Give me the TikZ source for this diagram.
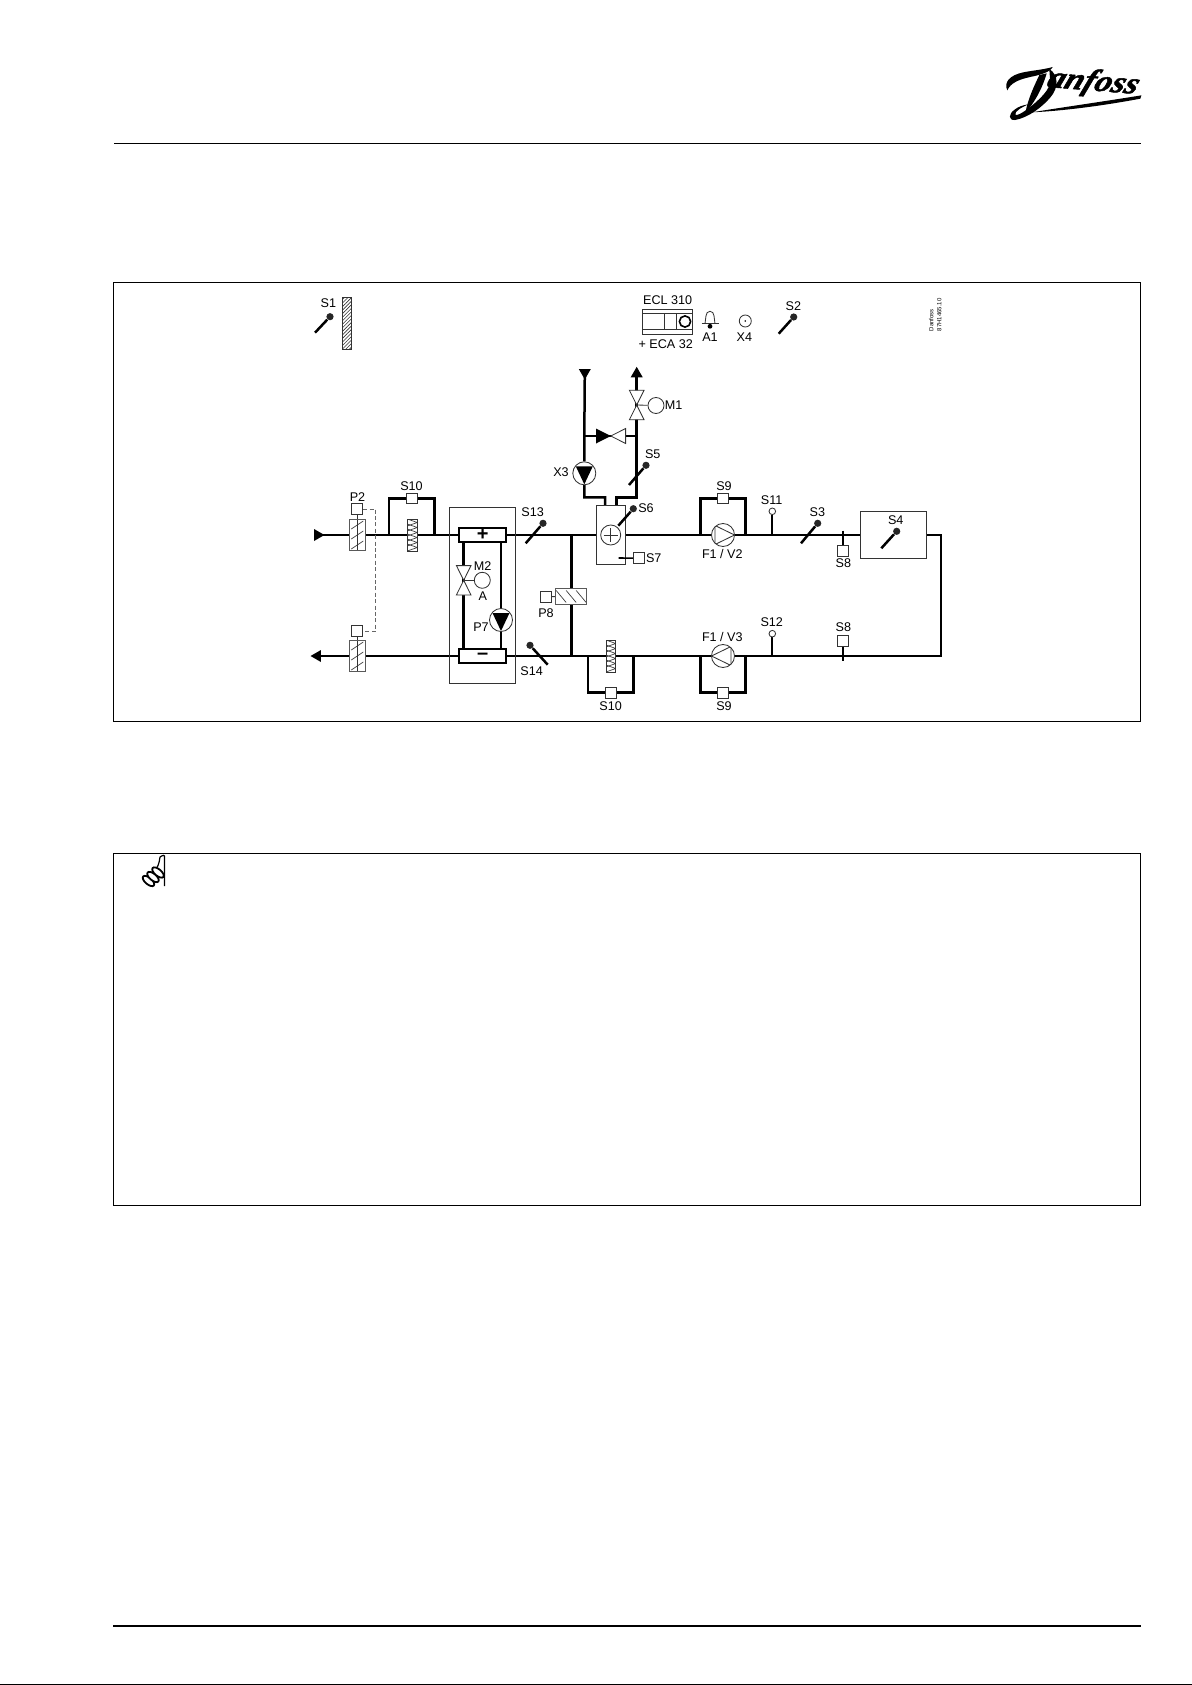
\documentclass[tikz,border=0pt]{standalone}
\usepackage{fontspec}
\setmainfont{Liberation Sans}
\newfontfamily\logofont[BoldItalicFont={Liberation Serif Bold Italic},BoldItalicFeatures={FakeBold=1.6}]{Liberation Serif}
\usetikzlibrary{shapes.geometric,backgrounds,patterns.meta}

\begin{document}
\begin{tikzpicture}[
    x=0.5pt, y=-0.5pt,
    lbl/.style={inner sep=0pt, font=\fontsize{6.3}{7}\selectfont},
    thinline/.style={line width=0.42pt, draw=black!80},
    hatchline/.style={line width=0.35pt, draw=black!75},
    pipe/.style={line width=1.25pt, line join=miter},
    stem/.style={line width=0.85pt},
    probe/.style={line width=1.25pt},
    frame/.style={line width=0.5pt},
    bulb/.style={circle, fill=black!85, inner sep=0pt, minimum size=3.6pt},
    sqr/.style={rectangle, thinline, fill=white, inner sep=0pt, minimum size=5.4pt},
    ring/.style={circle, thinline, fill=white, inner sep=0pt, minimum size=3.3pt},
    motor/.style={circle, thinline, fill=white, inner sep=0pt, minimum size=8pt},
    hxbox/.style={rectangle, draw, line width=1.1pt, fill=white, inner sep=0pt, minimum width=23.5pt, minimum height=6.7pt, font=\bfseries\fontsize{10}{10}\selectfont},
    tip/.style={isosceles triangle, isosceles triangle stretches, fill=black, inner sep=0pt, minimum height=5.2pt, minimum width=6pt},
    pumpdown/.style={circle, thinline, fill=white, inner sep=0pt, minimum size=11.5pt, path picture={
        \fill[black] (path picture bounding box.center) ++(-8.5,-7) -- ++(17,0) -- ++(-8.5,18) -- cycle;}},
    fanright/.style={circle, thinline, fill=white, inner sep=0pt, minimum size=11.5pt, path picture={
        \draw[thinline] (path picture bounding box.center) ++(-8,-9.5) -- ++(19.5,9.5) -- ++(-19.5,9.5) -- cycle;}},
    fanleft/.style={circle, thinline, fill=white, inner sep=0pt, minimum size=11.5pt, path picture={
        \draw[thinline] (path picture bounding box.center) ++(8,-9.5) -- ++(-19.5,9.5) -- ++(19.5,9.5) -- cycle;}},
    damper/.style={rectangle, thinline, draw=black!65, fill=white, inner sep=0pt, minimum width=7.8pt, minimum height=15.4pt, path picture={
        \foreach \d in {-10,0,10} {\draw[hatchline] (path picture bounding box.center) ++(-6,\d+4) -- ++(12,-8);}
        \draw[thinline] (path picture bounding box.north) -- (path picture bounding box.south);}},
    zigzag/.style={rectangle, thinline, fill=white, inner sep=0pt, minimum width=4.7pt, minimum height=16pt, path picture={
        \foreach \d in {-16,-11,-6,-1,4,9} {\draw[hatchline] (path picture bounding box.center) ++(-5,\d) -- ++(10,3.5) -- ++(-10,3.5);}}},
    smokebox/.style={rectangle, thinline, draw=black!65, fill=white, inner sep=0pt, minimum width=15.5pt, minimum height=7.8pt, path picture={
        \foreach \d in {-10,0,10} {\draw[hatchline] (path picture bounding box.center) ++(\d-5,-6) -- ++(10,12);}}},
    coil/.style={circle, thinline, fill=white, inner sep=0pt, minimum size=10pt, path picture={
        \draw[thinline] (path picture bounding box.center) ++(-7,0) -- ++(14,0);
        \draw[thinline] (path picture bounding box.center) ++(0,-7) -- ++(0,14);}},
    vvalve/.pic={\draw[thinline, fill=white] (-7.3,-14.7) -- (7.3,-14.7) -- (-7.3,14.7) -- (7.3,14.7) -- cycle;},
    hvalve/.pic={\draw[thinline, fill=white] (0,0) -- (14.8,-7.5) -- (14.8,7.5) -- cycle;
        \fill (0,0) -- (-14.8,-7.5) -- (-14.8,7.5) -- cycle;}
]
\useasboundingbox (0,0) rectangle (1192,1685);

% Page rules and frames
\draw[line width=0.55pt] (114,143.5) -- (1141,143.5);
\draw[line width=1.1pt] (113,1625.7) -- (1141,1625.7);
\draw[line width=0.5pt] (0,1684.5) -- (1192,1684.5);
\node[rectangle, frame, draw, minimum width=513.5pt, minimum height=219.3pt, inner sep=0pt] (chart) at (627,501.7) {};
\node[rectangle, frame, draw, minimum width=513.5pt, minimum height=176pt, inner sep=0pt] (notebox) at (627,1029.3) {};

% Logo
\begin{scope}[shift={(1000,55)}, x=0.1667pt, y=-0.1667pt]
\fill (22,106) .. controls (10,82) and (30,60) .. (70,52) .. controls (100,46) and (130,44) .. (158,36)
    .. controls (150,52) and (120,60) .. (90,66) .. controls (55,74) and (32,84) .. (22,106) -- cycle;
\fill (148,42) .. controls (176,60) and (176,98) .. (152,126) .. controls (127,156) and (85,188) .. (45,195)
    .. controls (26,197) and (23,178) .. (45,163) .. controls (55,155) and (70,150) .. (85,148)
    .. controls (62,158) and (44,170) .. (46,178) .. controls (50,186) and (80,166) .. (106,143)
    .. controls (134,118) and (154,95) .. (150,70) .. controls (149,58) and (148,50) .. (148,42) -- cycle;
\fill (140,55) .. controls (130,90) and (110,135) .. (76,174) .. controls (84,130) and (104,90) .. (118,60) -- cycle;
\fill (95,172) .. controls (200,155) and (320,138) .. (424,121) -- (421,131) .. controls (320,150) and (200,167) .. (95,172) -- cycle;
\end{scope}
\node[inner sep=0pt, xscale=1.15, xslant=0.25, rotate=-5, transform shape, font=\logofont\bfseries\itshape\fontsize{15}{15}\selectfont] (logotext) at (1093.5,83) {anfoss};

% Note icon
\draw[line width=0.6pt, fill=white] (160,857) .. controls (163,855) and (164,855) .. (164.5,856) -- (164.5,886);
\draw[line width=0.6pt] (160,857) .. controls (159,864) and (158,868) .. (153,872);
\foreach \cx/\cy in {148.5/881,153/877,158/872.5} {
    \draw[line width=0.9pt, fill=white, rotate around={-40:(\cx,\cy)}] (\cx,\cy) ellipse [x radius=7, y radius=3.3];
}

% Top row
\node[bulb] (s1b) at (330,316.7) {};
\coordinate (s1e) at (315,332.7);
\draw[probe] (s1b) -- (s1e);
\node[lbl] (s1l) at (328.3,303.5) {S1};
\node[rectangle, thinline, draw, inner sep=0pt, minimum width=4.7pt, minimum height=25.8pt, pattern={Lines[angle=45,distance=1.25pt,line width=0.3pt]}, pattern color=black!80] (wall) at (347,323.2) {};

\node[rectangle, thinline, draw, fill=white, inner sep=0pt, minimum width=25pt, minimum height=12.5pt] (ecl) at (667.7,321.8) {};
\draw[thinline] (642.7,313.3) -- (692.7,313.3);
\draw[thinline] (642.7,329.3) -- (692.7,329.3);
\draw[thinline] (664.3,313.3) -- (664.3,329.3);
\draw[thinline] (676.7,313.3) -- (676.7,329.3);
\node[circle, draw, line width=0.8pt, inner sep=0pt, minimum size=5.6pt] (ecldial) at (685,321.5) {};
\node[lbl] (ecllbl) at (667.7,300) {ECL 310};
\node[lbl] (ecalbl) at (665.7,344) {+ ECA 32};

\draw[thinline] (701.7,323.7) -- (719,323.7);
\draw[thinline] (705,323.7) .. controls (706,319) and (705,311.3) .. (710,311.3) .. controls (715,311.3) and (714,319) .. (715,323.7);
\node[circle, fill=black, inner sep=0pt, minimum size=2.4pt] (a1d) at (710,326.3) {};
\node[lbl] (a1l) at (710,336.7) {A1};
\node[circle, thinline, draw, inner sep=0pt, minimum size=6pt] (x4c) at (745.3,321) {};
\node[circle, fill=black, inner sep=0pt, minimum size=0.9pt] (x4d) at (745.3,321) {};
\node[lbl] (x4l) at (744.3,336.7) {X4};

\node[bulb] (s2b) at (793.7,317) {};
\coordinate (s2e) at (778.7,333.7);
\draw[probe] (s2b) -- (s2e);
\node[lbl] (s2l) at (793.3,306.3) {S2};
\node[rotate=90, anchor=west, inner sep=0pt, font=\fontsize{3}{3}\selectfont] (docmaker) at (931.3,331.7) {Danfoss};
\node[rotate=90, anchor=west, inner sep=0pt, font=\fontsize{3}{3}\selectfont] (docnr) at (939.3,331.7) {87H1465.10};

% Air handling line
\node[tip, shape border rotate=0] (inlet) at (317.5,535) {};
\node[tip, shape border rotate=180] (outlet) at (317.5,656) {};
\node[damper] (p2in) at (357.3,535) {};
\node[damper] (p2out) at (357.3,656) {};
\node[sqr] (p2a) at (357.3,509.3) {};
\node[sqr] (p2b) at (357.3,631) {};
\node[lbl] (p2l) at (357.5,497) {P2};
\coordinate (p2top) at (375.7,509.3);
\coordinate (p2bot) at (375.7,631);
\draw[thinline, draw=black!60, dashed, dash pattern=on 2pt off 1.2pt] (p2a) -- (p2top) -- (p2bot) -- (p2b);

\node[zigzag] (s10f) at (412.3,535) {};
\node[sqr] (s10a) at (412,498.5) {};
\node[lbl] (s10al) at (411.5,486) {S10};
\coordinate (s10al1) at (389,535);
\coordinate (s10ar1) at (434.7,535);

\node[rectangle, thinline, draw, inner sep=0pt, minimum width=33.2pt, minimum height=88pt] (hxframe) at (482.5,595.3) {};
\node[hxbox] (hxp) at (482.7,535) {+};
\node[hxbox] (hxm) at (482.7,656) {--};
\coordinate (m2v) at (463.7,580.3);
\pic at (m2v) {vvalve};
\node[motor] (m2c) at (482.3,580.3) {};
\node[lbl] (m2l) at (482.7,565.7) {M2};
\node[lbl] (m2a) at (482.7,596) {A};
\node[pumpdown] (p7) at (501,620) {};
\node[lbl] (p7l) at (481,627) {P7};

\node[bulb] (s13b) at (543,523.3) {};
\coordinate (s13e) at (525.7,543.3);
\draw[probe] (s13b) -- (s13e);
\node[lbl] (s13l) at (532.7,512.3) {S13};
\node[bulb] (s14b) at (530,645.3) {};
\coordinate (s14e) at (547.7,664.7);
\draw[probe] (s14b) -- (s14e);
\node[lbl] (s14l) at (531.7,671) {S14};

\coordinate (tee1) at (571.7,535);
\coordinate (tee2) at (571.7,656);
\node[smokebox] (p8f) at (571.2,596.5) {};
\node[sqr] (p8s) at (546,596.7) {};
\node[lbl] (p8l) at (546,613.3) {P8};

% Heater and primary side
\node[rectangle, thinline, fill=white, draw, inner sep=0pt, minimum width=14.5pt, minimum height=29.5pt] (heater) at (611.2,535) {};
\node[coil] (coilc) at (610.7,535) {};
\node[bulb] (s6b) at (633.3,508.7) {};
\coordinate (s6e) at (618.3,525.7);
\draw[probe] (s6b) -- (s6e);
\node[lbl] (s6l) at (646,508.3) {S6};
\coordinate (s7e) at (618.7,558);
\node[sqr] (s7s) at (638.8,558.2) {};
\draw[line width=0.8pt] (s7e) -- (s7s);
\node[lbl] (s7l) at (653.7,557.7) {S7};

\coordinate (stub1) at (605,505.3);
\coordinate (stub2) at (616.7,505.3);
\coordinate (stub1t) at (605,497.3);
\coordinate (stub2t) at (616.7,497.3);
\coordinate (x3t) at (584.3,497.3);
\coordinate (m1b) at (636.7,497.3);
\node[pumpdown] (x3) at (584.3,473.3) {};
\node[lbl] (x3l) at (561,471.7) {X3};
\node[tip, shape border rotate=-90] (supply) at (584.8,372.5) {};
\node[tip, shape border rotate=90] (retur) at (636.7,373.8) {};
\coordinate (m1v) at (636.7,405);
\pic at (m1v) {vvalve};
\node[motor] (m1c) at (656,405.5) {};
\node[lbl] (m1l) at (673.5,405.5) {M1};
\coordinate (bypl) at (584.3,436);
\coordinate (bypr) at (636.7,436);
\coordinate (bypv) at (610.8,436);
\pic at (bypv) {hvalve};
\node[bulb] (s5b) at (646,465.3) {};
\coordinate (s5e) at (629,485);
\draw[probe] (s5b) -- (s5e);
\node[lbl] (s5l) at (652.7,454.3) {S5};

% Supply fan side
\node[fanright] (f2) at (723,535) {};
\node[lbl] (f2l) at (722.3,554) {F1 / V2};
\node[sqr] (s9a) at (722.8,498.5) {};
\node[lbl] (s9al) at (724,486) {S9};
\coordinate (s9al1) at (700.3,535);
\coordinate (s9ar1) at (745.7,535);
\coordinate (s11j) at (772.3,535);
\node[ring] (s11c) at (772.3,511.3) {};
\node[lbl] (s11l) at (771.7,500.3) {S11};
\node[bulb] (s3b) at (817.7,523.3) {};
\coordinate (s3e) at (801,543.3);
\draw[probe] (s3b) -- (s3e);
\node[lbl] (s3l) at (817.3,512.3) {S3};
\coordinate (s8at) at (843.3,530.7);
\node[sqr] (s8a) at (843.3,550.8) {};
\draw[stem] (s8at) -- (s8a);
\node[lbl] (s8al) at (843.3,563.3) {S8};
\node[rectangle, thinline, draw, fill=white, inner sep=0pt, minimum width=33pt, minimum height=23.8pt] (s4box) at (893.3,535) {};
\node[bulb] (s4b) at (896.7,531.3) {};
\coordinate (s4e) at (881.3,548.3);
\draw[probe] (s4b) -- (s4e);
\node[lbl] (s4l) at (895.7,520) {S4};
\coordinate (corn1) at (941,535);
\coordinate (corn2) at (941,656);

% Return fan side
\node[zigzag] (s10r) at (610.8,656) {};
\node[sqr] (s10b) at (610.8,692.6) {};
\node[lbl] (s10bl) at (610.7,705.7) {S10};
\coordinate (s10bl1) at (588,656);
\coordinate (s10br1) at (633.3,656);
\node[fanleft] (f3) at (723,656) {};
\node[lbl] (f3l) at (722.3,637.3) {F1 / V3};
\node[sqr] (s9b) at (722.8,692.6) {};
\node[lbl] (s9bl) at (724,705.7) {S9};
\coordinate (s9bl1) at (700.3,656);
\coordinate (s9br1) at (745.7,656);
\coordinate (s12j) at (772.3,656);
\node[ring] (s12c) at (772.3,633.7) {};
\node[lbl] (s12l) at (771.7,622) {S12};
\coordinate (s8bt) at (843.3,660.7);
\node[sqr] (s8b) at (843.3,640.7) {};
\draw[stem] (s8bt) -- (s8b);
\node[lbl] (s8bl) at (843.3,626.7) {S8};

% Pipes go behind the symbols
\begin{pgfonlayer}{background}
\draw[pipe] (inlet.center) -- (p2in) -- (s10f) -- (hxp) -- (tee1) -- (heater) -- (f2) -- (s4box);
\draw[pipe] (s4box) -- (corn1) -- (corn2) -- (tee2) -- (hxm) -- (outlet.center);
\draw[pipe] (p2in) -- (s10f);
\draw[pipe] (p2out) -- (hxm);
\draw[pipe] (tee1) -- (tee2);
\draw[pipe] (s10al1) |- (s10a) -| (s10ar1);
\draw[pipe] (s9al1) |- (s9a) -| (s9ar1);
\draw[pipe] (s10bl1) |- (s10b) -| (s10br1);
\draw[pipe] (s9bl1) |- (s9b) -| (s9br1);
\draw[stem] (s11j) -- (s11c);
\draw[stem] (s12j) -- (s12c);
\draw[pipe] (hxp.south -| m2v) -- (hxm.north -| m2v);
\draw[pipe] (hxp.south -| p7) -- (hxm.north -| p7);
\draw[pipe] (stub1) -- (stub1t) -- (x3t) -- (x3) -- (bypl) -- (supply.center);
\draw[pipe] (stub2) -- (stub2t) -- (m1b) -- (bypr) -- (m1v) -- (retur.center);
\draw[pipe] (bypl) -- (bypv) -- (bypr);
\draw[thinline] (p2a) -- (p2in);
\draw[thinline] (p2b) -- (p2out);
\draw[thinline] (m2v) -- (m2c);
\draw[thinline] (m1v) -- (m1c);
\draw[thinline] (p8s) -- (p8f);
\end{pgfonlayer}

\end{tikzpicture}
\end{document}
